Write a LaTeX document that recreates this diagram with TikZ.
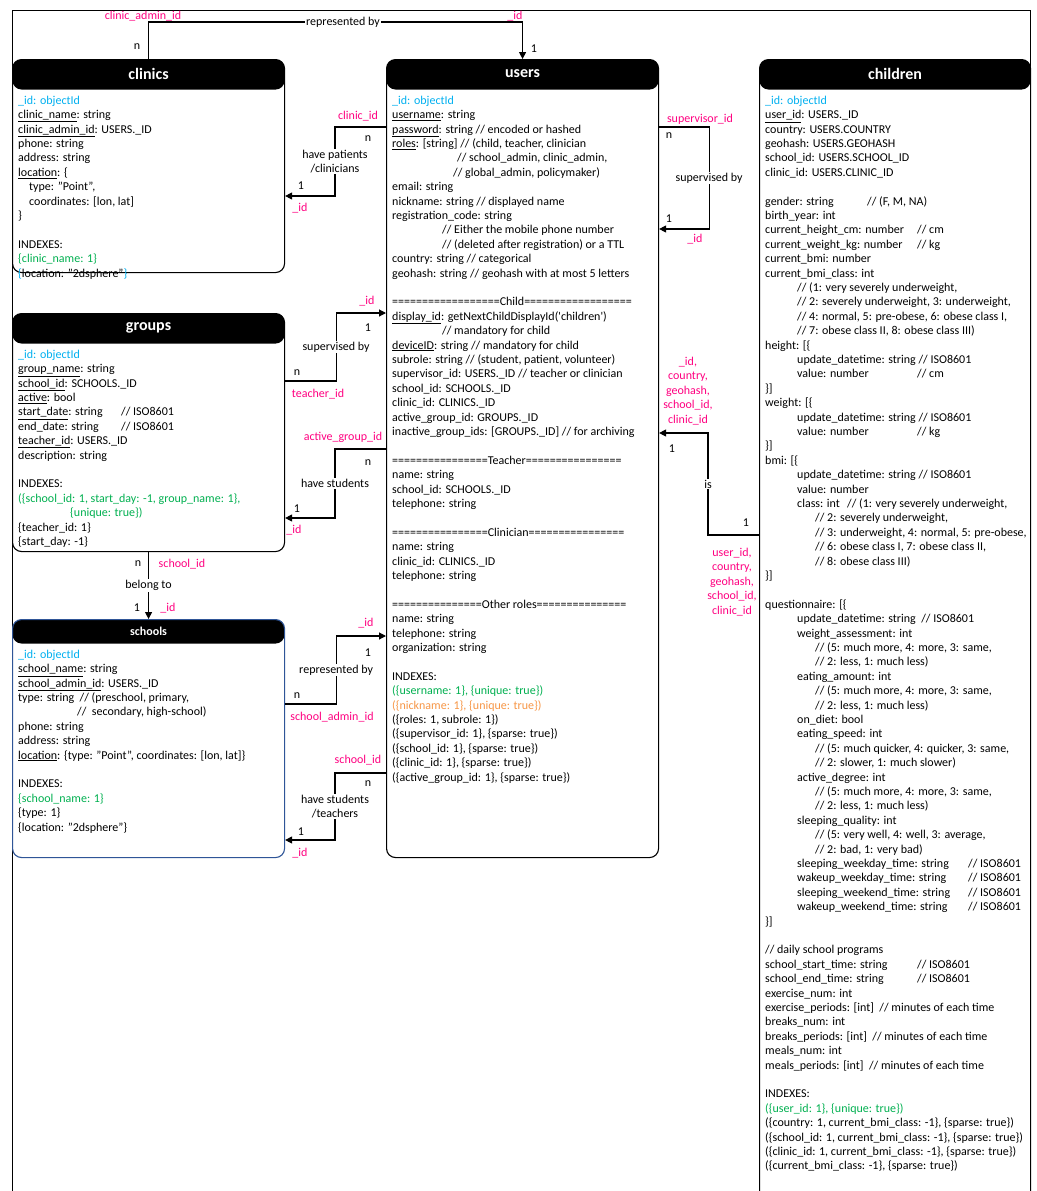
\documentclass[tikz,border=0pt]{standalone}
\usepackage{fontspec}
\setmainfont{Carlito}
\usetikzlibrary{arrows.meta}
\definecolor{idblue}{RGB}{0,176,240}
\definecolor{idxgreen}{RGB}{0,176,80}
\definecolor{idxorange}{RGB}{247,150,70}
\definecolor{keypink}{RGB}{255,0,128}
\definecolor{schoolblue}{RGB}{47,85,151}
\newcommand{\erfont}{\fontsize{12}{14.4}\selectfont}
\newcommand{\oid}{\strut\textcolor{idblue}{\_id: objectId}}

\begin{document}
\begin{tikzpicture}[x=1pt, y=-1pt, every node/.style={font=\erfont},
  erbox/.style={draw, line width=1.1pt, rounded corners=9pt, fill=white, anchor=north west, inner sep=0pt,
    path picture={\fill[black] (path picture bounding box.north west) rectangle ([yshift=-#1]path picture bounding box.north east);}},
  erbox/.default=30,
  tabletitle/.style={text=white, font=\fontsize{16}{19}\selectfont\bfseries},
  tablebody/.style={anchor=north west, inner sep=0pt, align=left},
  rel/.style={line width=1.1pt, -{Triangle[length=7pt,width=7pt]}},
  rellabel/.style={fill=white, inner sep=1pt, align=center},
  fkey/.style={text=keypink, align=center, inner sep=0pt},
  card/.style={inner sep=0pt}]
\useasboundingbox (0,0) rectangle (1036,1191);
\draw[line width=0.8pt] (12,10) rectangle (1030,1200);

% tables
\node[erbox, minimum width=272, minimum height=213] (clinics) at (12,59) {};
\node[tabletitle] (clinicstitle) at ([yshift=-15]clinics.north) {clinics};
\node[tablebody] (clinicsbody) at ([xshift=6,yshift=-35]clinics.north west) {\oid\\
  \underline{clinic\_name}: string\\
  \underline{clinic\_admin\_id}: USERS.\_ID\\
  phone: string\\
  address: string\\
  \underline{location}: \{\\
  \hspace*{11pt}type: "Point",\\
  \hspace*{11pt}coordinates: [lon, lat]\\
  \}\\
  \mbox{}\\
  INDEXES:\\
  \textcolor{idxgreen}{\{clinic\_name: 1\}}\\
  \textcolor{idblue}{\{}location: "2dsphere"\textcolor{idblue}{\}}};

\node[erbox, minimum width=272, minimum height=238] (groups) at (12,313) {};
\node[tabletitle] (groupstitle) at ([yshift=-15]groups.north) {groups};
\node[tablebody] (groupsbody) at ([xshift=6,yshift=-35]groups.north west) {\oid\\
  \underline{group\_name}: string\\
  \underline{school\_id}: SCHOOLS.\_ID\\
  \underline{active}: bool\\
  \makebox[103pt][l]{\underline{start\_date}: string}// ISO8601\\
  \makebox[103pt][l]{end\_date: string}// ISO8601\\
  \underline{teacher\_id}: USERS.\_ID\\
  description: string\\
  \mbox{}\\
  INDEXES:\\
  \textcolor{idxgreen}{(\{school\_id: 1, start\_day: -1, group\_name: 1\},}\\
  \hspace*{52pt}\textcolor{idxgreen}{\{unique: true\})}\\
  \{teacher\_id: 1\}\\
  \{start\_day: -1\}};

\node[erbox=24, draw=schoolblue, minimum width=272, minimum height=238] (schools) at (12,619) {};
\node[tabletitle, font=\erfont\bfseries] (schoolstitle) at ([yshift=-12]schools.north) {schools};
\node[tablebody] (schoolsbody) at ([xshift=6,yshift=-29]schools.north west) {\oid\\
  \underline{school\_name}: string\\
  \underline{school\_admin\_id}: USERS.\_ID\\
  type: string~ // (preschool, primary,\\
  \hspace*{59pt}//~ secondary, high-school)\\
  phone: string\\
  address: string\\
  \underline{location}: \{type: "Point", coordinates: [lon, lat]\}\\
  \mbox{}\\
  INDEXES:\\
  \textcolor{idxgreen}{\{school\_name: 1\}}\\
  \{type: 1\}\\
  \{location: "2dsphere"\}};

\node[erbox, minimum width=272, minimum height=798] (users) at (386,59) {};
\node[tabletitle] (userstitle) at ([yshift=-15]users.north) {users};
\node[tablebody] (usersbody) at ([xshift=6,yshift=-35]users.north west) {\oid\\
  \underline{username}: string\\
  \underline{password}: string // encoded or hashed\\
  \underline{roles}: [string] // (child, teacher, clinician\\
  \hspace*{65pt}// school\_admin, clinic\_admin,\\
  \hspace*{61pt}// global\_admin, policymaker)\\
  email: string\\
  nickname: string // displayed name\\
  registration\_code: string\\
  \hspace*{50pt}// Either the mobile phone number\\
  \hspace*{50pt}// (deleted after registration) or a TTL\\
  country: string // categorical\\
  geohash: string // geohash with at most 5 letters\\
  \mbox{}\\
  ==================Child==================\\
  \underline{display\_id}: getNextChildDisplayId(\textquotesingle children\textquotesingle)\\
  \hspace*{50pt}// mandatory for child\\
  \underline{deviceID}: string // mandatory for child\\
  subrole: string // (student, patient, volunteer)\\
  supervisor\_id: USERS.\_ID // teacher or clinician\\
  school\_id: SCHOOLS.\_ID\\
  clinic\_id: CLINICS.\_ID\\
  active\_group\_id: GROUPS.\_ID\\
  inactive\_group\_ids: [GROUPS.\_ID] // for archiving\\
  \mbox{}\\
  ================Teacher================\\
  name: string\\
  school\_id: SCHOOLS.\_ID\\
  telephone: string\\
  \mbox{}\\
  ================Clinician================\\
  name: string\\
  clinic\_id: CLINICS.\_ID\\
  telephone: string\\
  \mbox{}\\
  ===============Other roles===============\\
  name: string\\
  telephone: string\\
  organization: string\\
  \mbox{}\\
  INDEXES:\\
  \textcolor{idxgreen}{(\{username: 1\}, \{unique: true\})}\\
  \textcolor{idxorange}{(\{nickname: 1\}, \{unique: true\})}\\
  (\{roles: 1, subrole: 1\})\\
  (\{supervisor\_id: 1\}, \{sparse: true\})\\
  (\{school\_id: 1\}, \{sparse: true\})\\
  (\{clinic\_id: 1\}, \{sparse: true\})\\
  (\{active\_group\_id: 1\}, \{sparse: true\})};

\node[erbox, minimum width=271, minimum height=1141] (children) at (759,59) {};
\node[tabletitle] (childrentitle) at ([yshift=-15]children.north) {children};
\node[tablebody] (childrenbody) at ([xshift=6,yshift=-35]children.north west) {\oid\\
  \underline{user\_id}: USERS.\_ID\\
  country: USERS.COUNTRY\\
  geohash: USERS.GEOHASH\\
  school\_id: USERS.SCHOOL\_ID\\
  clinic\_id: USERS.CLINIC\_ID\\
  \mbox{}\\
  \makebox[102pt][l]{gender: string}// (F, M, NA)\\
  birth\_year: int\\
  \makebox[152pt][l]{current\_height\_cm: number}// cm\\
  \makebox[152pt][l]{current\_weight\_kg: number}// kg\\
  current\_bmi: number\\
  current\_bmi\_class: int\\
  \hspace*{32pt}// (1: very severely underweight,\\
  \hspace*{32pt}// 2: severely underweight, 3: underweight,\\
  \hspace*{32pt}// 4: normal, 5: pre-obese, 6: obese class I,\\
  \hspace*{32pt}// 7: obese class II, 8: obese class III)\\
  height: [\{\\
  \hspace*{32pt}update\_datetime: string // ISO8601\\
  \hspace*{32pt}\makebox[120pt][l]{value: number}// cm\\
  \}]\\
  weight: [\{\\
  \hspace*{32pt}update\_datetime: string // ISO8601\\
  \hspace*{32pt}\makebox[120pt][l]{value: number}// kg\\
  \}]\\
  bmi: [\{\\
  \hspace*{32pt}update\_datetime: string // ISO8601\\
  \hspace*{32pt}value: number\\
  \hspace*{32pt}\makebox[50pt][l]{class: int}// (1: very severely underweight,\\
  \hspace*{50pt}// 2: severely underweight,\\
  \hspace*{50pt}// 3: underweight, 4: normal, 5: pre-obese,\\
  \hspace*{50pt}// 6: obese class I, 7: obese class II,\\
  \hspace*{50pt}// 8: obese class III)\\
  \}]\\
  \mbox{}\\
  questionnaire: [\{\\
  \hspace*{32pt}update\_datetime: string~ // ISO8601\\
  \hspace*{32pt}weight\_assessment: int\\
  \hspace*{50pt}// (5: much more, 4: more, 3: same,\\
  \hspace*{50pt}// 2: less, 1: much less)\\
  \hspace*{32pt}eating\_amount: int\\
  \hspace*{50pt}// (5: much more, 4: more, 3: same,\\
  \hspace*{50pt}// 2: less, 1: much less)\\
  \hspace*{32pt}on\_diet: bool\\
  \hspace*{32pt}eating\_speed: int\\
  \hspace*{50pt}// (5: much quicker, 4: quicker, 3: same,\\
  \hspace*{50pt}// 2: slower, 1: much slower)\\
  \hspace*{32pt}active\_degree: int\\
  \hspace*{50pt}// (5: much more, 4: more, 3: same,\\
  \hspace*{50pt}// 2: less, 1: much less)\\
  \hspace*{32pt}sleeping\_quality: int\\
  \hspace*{50pt}// (5: very well, 4: well, 3: average,\\
  \hspace*{50pt}// 2: bad, 1: very bad)\\
  \hspace*{32pt}\makebox[171pt][l]{sleeping\_weekday\_time: string}// ISO8601\\
  \hspace*{32pt}\makebox[171pt][l]{wakeup\_weekday\_time: string}// ISO8601\\
  \hspace*{32pt}\makebox[171pt][l]{sleeping\_weekend\_time: string}// ISO8601\\
  \hspace*{32pt}\makebox[171pt][l]{wakeup\_weekend\_time: string}// ISO8601\\
  \}]\\
  \mbox{}\\
  // daily school programs\\
  \makebox[152pt][l]{school\_start\_time: string}// ISO8601\\
  \makebox[152pt][l]{school\_end\_time: string}// ISO8601\\
  exercise\_num: int\\
  exercise\_periods: [int]~ // minutes of each time\\
  breaks\_num: int\\
  breaks\_periods: [int]~ // minutes of each time\\
  meals\_num: int\\
  meals\_periods: [int]~ // minutes of each time\\
  \mbox{}\\
  INDEXES:\\
  \textcolor{idxgreen}{(\{user\_id: 1\}, \{unique: true\})}\\
  (\{country: 1, current\_bmi\_class: -1\}, \{sparse: true\})\\
  (\{school\_id: 1, current\_bmi\_class: -1\}, \{sparse: true\})\\
  (\{clinic\_id: 1, current\_bmi\_class: -1\}, \{sparse: true\})\\
  (\{current\_bmi\_class: -1\}, \{sparse: true\})};

% relations
\draw[rel] (clinics.north) -- ++(0,-37) -| node[rellabel, pos=0.26] (lrep1) {represented by} (users.north);
\draw[rel] ([yshift=-68]users.north west) -- ++(-51,0) |- node[rellabel, pos=0.25] (lpat) {have patients\\/clinicians} ([yshift=-137]clinics.north east);
\draw[rel] ([yshift=-68]groups.north east) -- ++(51,0) |- node[rellabel, pos=0.25] (lsup1) {supervised by} ([yshift=-254]users.north west);
\draw[rel] ([yshift=-390]users.north west) -- ++(-51,0) |- node[rellabel, pos=0.25] (lstu) {have students} ([yshift=-205]groups.north east);
\draw[rel] (groups.south) -- node[rellabel] (lbel) {belong to} (schools.north);
\draw[rel] ([yshift=-85]schools.north east) -- ++(51,0) |- node[rellabel, pos=0.25] (lrep2) {represented by} ([yshift=-577]users.north west);
\draw[rel] ([yshift=-714]users.north west) -- ++(-51,0) |- node[rellabel, pos=0.25] (lstt) {have students\\/teachers} ([yshift=-221]schools.north east);
\draw[rel] ([yshift=-68]users.north east) -- ++(50,0) |- node[rellabel, pos=0.25] (lsup2) {supervised by} ([yshift=-170]users.north east);
\draw[rel] ([yshift=-476]children.north west) -- ++(-51,0) |- node[rellabel, pos=0.25] (lis) {is} ([yshift=-374]users.north east);

\foreach \x/\y/\t [count=\i] in {143/16.5/clinic\_admin\_id, 515/16.5/\_id, 358/116/clinic\_id, 300/208/\_id,
  367/301/\_id, 318/394/teacher\_id, 343/437/active\_group\_id, 294/530/\_id, 182/564/school\_id, 168/608/\_id,
  366/623/\_id, 332/717/school\_admin\_id, 358/760/school\_id, 300/853/\_id, 700/119/supervisor\_id, 695/239/\_id}
  \node[fkey] (fk\i) at (\x,\y) {\t};
\node[fkey] (isfrom) at (688,391) {\_id,\\country,\\geohash,\\school\_id,\\clinic\_id};
\node[fkey] (isto) at (732,582) {user\_id,\\country,\\geohash,\\school\_id,\\clinic\_id};

\foreach \x/\y/\t [count=\i] in {137/47/n, 534/49/1, 368/139/n, 301/186/1, 368/328/1, 297/373/n, 368/463/n,
  297/509/1, 138/564/n, 137/608/1, 368/653/1, 297/696/n, 368/784/n, 301/832/1, 669/136/n, 669/219/1, 672/449/1, 746/523/1}
  \node[card] (cd\i) at (\x,\y) {\t};
\end{tikzpicture}
\end{document}
